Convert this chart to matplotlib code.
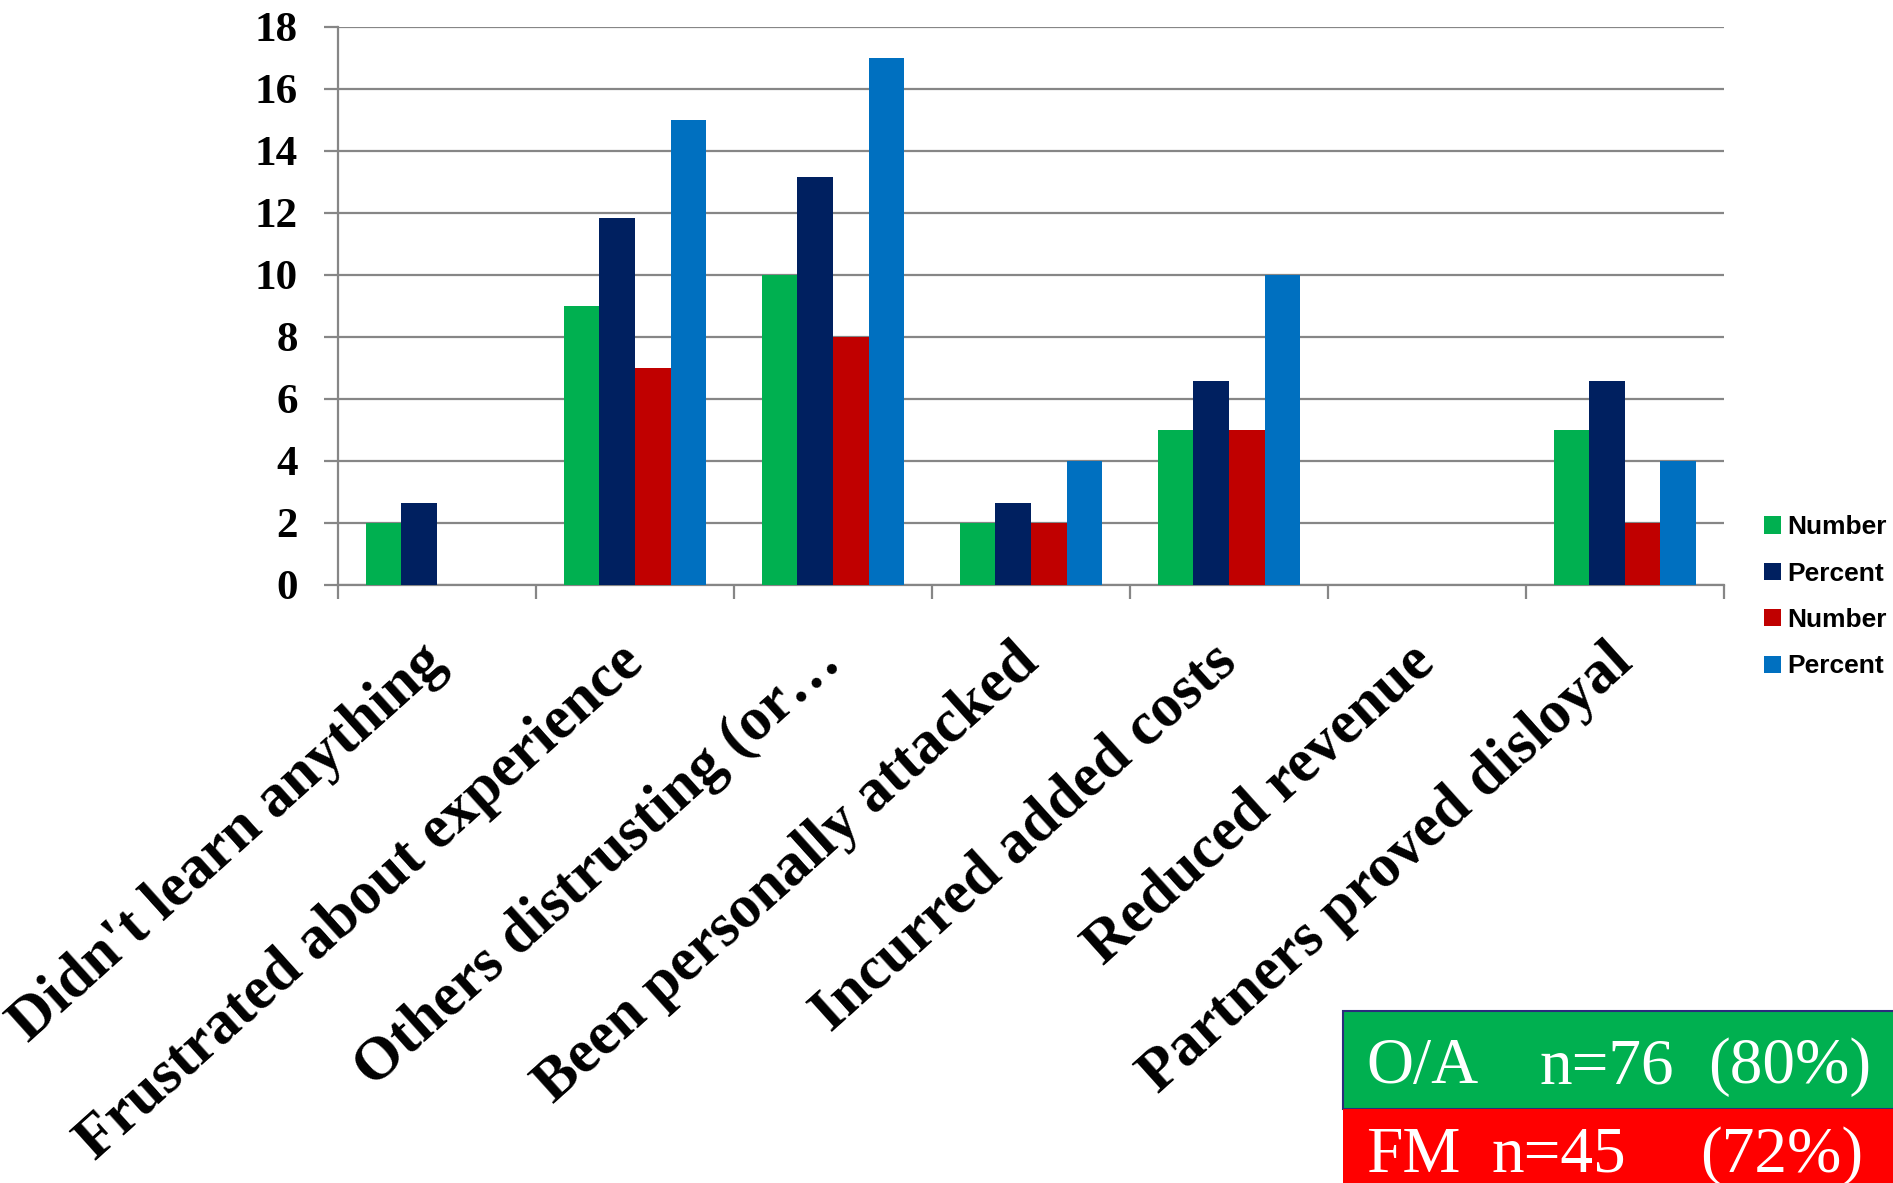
import numpy as np
import matplotlib.pyplot as plt
from matplotlib.patches import Rectangle

# Survey categories and the four series (O/A and FM groups)
categories = ["Didn't learn anything", "Frustrated about experience",
              "Others distrusting (or\u2026", "Been personally attacked",
              "Incurred added costs", "Reduced revenue",
              "Partners proved disloyal"]
oa_number = [2, 9, 10, 2, 5, 0, 5]
oa_percent = [2.63, 11.84, 13.16, 2.63, 6.58, 0, 6.58]
fm_number = [0, 7, 8, 2, 5, 0, 2]
fm_percent = [0, 15, 17, 4, 10, 0, 4]
series_labels = ['Number', 'Percent', 'Number', 'Percent']
colors = ['#00B050', '#002060', '#C00000', '#0070C0']
yticks = list(range(0, 19, 2))

serif = 'Liberation Serif'
grid_gray = '#868686'

fig = plt.figure(figsize=(18.93, 11.83), dpi=100)
ax = fig.add_axes([0.1786, 0.5055, 0.732, 0.472])

x = np.arange(len(categories))
width = 0.18
series = [oa_number, oa_percent, fm_number, fm_percent]
handles = []
for i, (vals, c, lab) in enumerate(zip(series, colors, series_labels)):
    b = ax.bar(x + (i - 1.5) * width, vals, width, color=c, label=lab, zorder=3)
    handles.append(b)

ax.set_xlim(-0.5, len(categories) - 0.5)
ax.set_ylim(0, 18)
ax.set_yticks(yticks)
ax.set_yticklabels([str(v) for v in yticks], fontfamily=serif,
                   fontweight='bold', fontsize=31)
ax.yaxis.grid(True, color=grid_gray, linewidth=1.6, zorder=0)
ax.set_axisbelow(True)

# category boundary ticks, labels placed at the centres
ax.set_xticks(np.arange(len(categories) + 1) - 0.5)
ax.set_xticklabels([])
ax.set_xticks(x, minor=True)
ax.set_xticklabels(categories, minor=True, rotation=42, ha='right',
                   va='center', rotation_mode='anchor', fontfamily=serif,
                   fontweight='bold', fontsize=44)
ax.tick_params(axis='x', which='minor', length=0, pad=50)
ax.tick_params(axis='x', which='major', length=10, width=1.6, color=grid_gray)
ax.tick_params(axis='y', length=10, width=1.6, color=grid_gray, pad=19)

for s in ['top', 'right']:
    ax.spines[s].set_visible(False)
for s in ['left', 'bottom']:
    ax.spines[s].set_color(grid_gray)
    ax.spines[s].set_linewidth(1.6)

fig.legend(handles=handles, labels=series_labels, loc='center left',
           bbox_to_anchor=(0.9319, 0.4955), frameon=False,
           prop={'family': 'Liberation Sans', 'weight': 'bold', 'size': 19},
           handlelength=0.63, handleheight=0.63, handletextpad=0.25,
           labelspacing=0.85, borderpad=0, borderaxespad=0)

# sample-size boxes in the lower right corner
fig.patches.append(Rectangle((0.7093, 0.0626), 0.30, 0.0828,
                             transform=fig.transFigure, facecolor='#00B050',
                             edgecolor='#2B2C7C', linewidth=1.5))
fig.patches.append(Rectangle((0.7093, -0.01), 0.30, 0.0726,
                             transform=fig.transFigure, facecolor='#FF0000',
                             edgecolor='none'))
box_rows = [(0.0845, ['O/A', 'n=76', '(80%)'], [0.7216, 0.8135, 0.9023]),
            (0.0095, ['FM', 'n=45', '(72%)'], [0.7216, 0.7880, 0.8980])]
for y, parts, xs in box_rows:
    for txt, xp in zip(parts, xs):
        fig.text(xp, y, txt, color='white', fontfamily=serif, fontsize=47,
                 va='baseline', ha='left')

fig.savefig('out.png', dpi=100)
